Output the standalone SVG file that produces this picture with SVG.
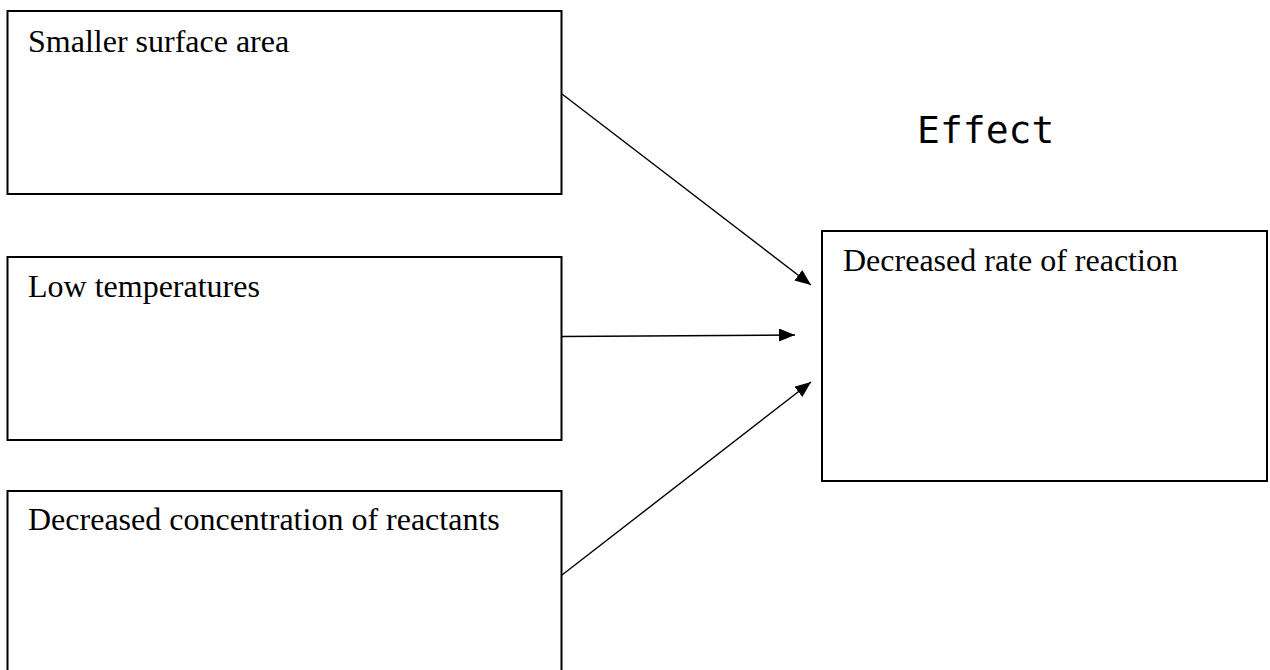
<svg xmlns="http://www.w3.org/2000/svg" width="1270" height="670" viewBox="0 0 1270 670">
  <style>
    .box { fill: #ffffff; stroke: #000000; stroke-width: 2; }
    .lbl { font-family: "Liberation Serif", "Times New Roman", serif; font-size: 32px; fill: #000000; }
    .title { font-family: "DejaVu Sans Mono", monospace; font-size: 38px; fill: #000000; }
    .conn { stroke: #000000; stroke-width: 1.4; fill: none; marker-end: url(#arrow); }
  </style>
  <defs>
    <marker id="arrow" markerUnits="userSpaceOnUse" markerWidth="17" markerHeight="13" refX="16" refY="6.5" orient="auto">
      <path d="M0,0 L16,6.5 L0,13 z" fill="#000000"/>
    </marker>
  </defs>
  <rect width="1270" height="670" fill="#ffffff"/>

  <g id="node-smaller-surface-area">
    <rect class="box" x="7.5" y="11" width="554" height="183"/>
    <text class="lbl" x="28" y="52">Smaller surface area</text>
  </g>
  <g id="node-low-temperatures">
    <rect class="box" x="7.5" y="257" width="554" height="183"/>
    <text class="lbl" x="28" y="297">Low temperatures</text>
  </g>
  <g id="node-decreased-concentration">
    <rect class="box" x="7.5" y="491" width="554" height="200"/>
    <text class="lbl" x="28" y="530">Decreased concentration of reactants</text>
  </g>
  <g id="node-decreased-rate">
    <rect class="box" x="822" y="231" width="445" height="250"/>
    <text class="lbl" x="843" y="271">Decreased rate of reaction</text>
  </g>
  <g id="label-effect">
    <text class="title" x="917" y="143">Effect</text>
  </g>

  <g id="connectors">
    <line class="conn" x1="562" y1="94" x2="811" y2="285"/>
    <line class="conn" x1="562" y1="336.5" x2="795" y2="335"/>
    <line class="conn" x1="562" y1="575" x2="811" y2="382"/>
  </g>
</svg>
